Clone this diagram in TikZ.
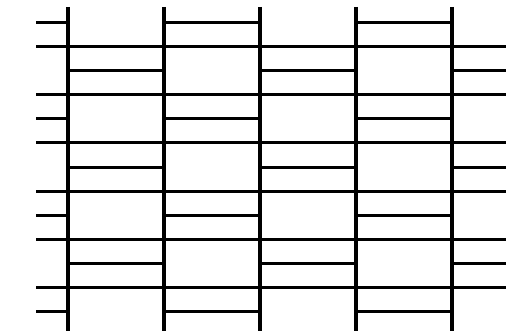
\documentclass[tikz,border=0pt]{standalone}
\begin{document}
\begin{tikzpicture}[x=1pt,y=-1pt,
  rail/.style={line width=3.4pt, black},
  bar/.style={line width=3pt, black}]
\useasboundingbox (0,0) rectangle (521,331);
% vertical lines
\foreach \x in {68,164,260,356,452} \draw[rail] (\x,7) -- (\x,331);
% long horizontal lines
\foreach \y in {47,95,143,191,239,287} \draw[bar] (36,\y) -- (506,\y);
% short lines, set A
\foreach \y in {23,119,215,311} {
  \draw[bar] (36,\y) -- (68,\y);
  \draw[bar] (164,\y) -- (260,\y);
  \draw[bar] (356,\y) -- (452,\y);
}
% short lines, set B
\foreach \y in {71,167,263} {
  \draw[bar] (68,\y) -- (164,\y);
  \draw[bar] (260,\y) -- (356,\y);
  \draw[bar] (452,\y) -- (506,\y);
}
\end{tikzpicture}
\end{document}
